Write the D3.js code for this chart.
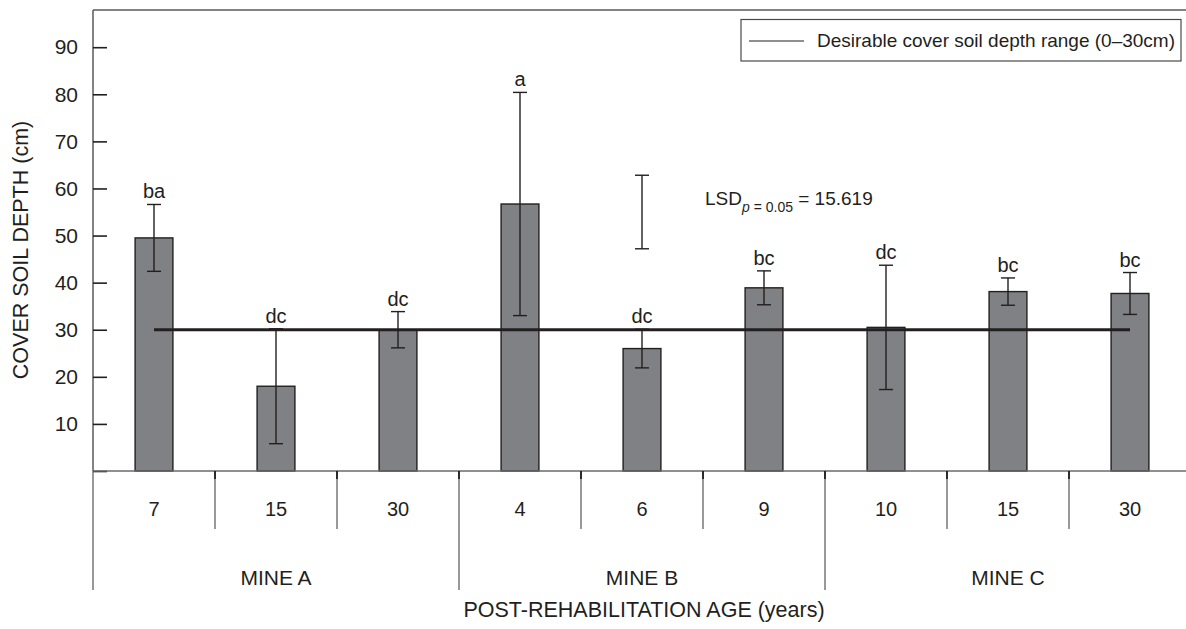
<!DOCTYPE html>
<html>
<head>
<meta charset="utf-8">
<script src="https://cdn.jsdelivr.net/npm/d3@7"></script>
<style>
  body { margin: 0; background: #fff; }
  svg { display: block; }
</style>
</head>
<body>
<svg id="chart" width="1186" height="629"></svg>
<script>
// Cover soil depth by post-rehabilitation age at three mines
const mines = ["MINE A", "MINE B", "MINE C"];
const ages = ["7", "15", "30", "4", "6", "9", "10", "15", "30"];
const mineOfBar = ["MINE A", "MINE A", "MINE A", "MINE B", "MINE B", "MINE B", "MINE C", "MINE C", "MINE C"];
const depth = [49.5, 18.0, 30.0, 56.7, 26.0, 38.9, 30.5, 38.1, 37.7];
const depthError = [7.1, 12.2, 3.85, 23.7, 4.1, 3.6, 13.2, 2.9, 4.45];
const groupLetters = ["ba", "dc", "dc", "a", "dc", "bc", "dc", "bc", "bc"];
const yTicks = [0, 10, 20, 30, 40, 50, 60, 70, 80, 90];
const desirableDepth = 30;
const lsdValue = 15.619;
const lsdCentre = 55;
const lsdBarIndex = 4;

const FONT = "'Liberation Sans', Arial, Helvetica, sans-serif";
const INK = "#231f20";

const svg = d3.select("#chart");
const plotLeft = 93, plotTop = 10, plotBase = 471, plotRight = 1191;

const x = d3.scaleBand().domain(d3.range(ages.length)).range([plotLeft, plotRight]);
const xGroup = d3.scaleBand().domain(mines).range([plotLeft, plotRight]);
const y = d3.scaleLinear().domain([0, 97.9]).range([plotBase, plotTop]);

const bw = x.bandwidth();
const barW = bw * 0.31;
const cx = i => x(i) + bw / 2;

// frame: left axis and top border
svg.append("line").attr("x1", plotLeft).attr("x2", 1186).attr("y1", plotTop).attr("y2", plotTop)
  .attr("stroke", "#5a5a5a").attr("stroke-width", 1.5);
svg.append("line").attr("x1", plotLeft).attr("x2", plotLeft).attr("y1", plotTop).attr("y2", plotBase)
  .attr("stroke", "#5a5a5a").attr("stroke-width", 1.5);

// y axis: ticks point inward, no label at zero
const yAxis = d3.axisLeft(y).tickValues(yTicks).tickSize(-14).tickSizeOuter(0).tickPadding(15)
  .tickFormat(d => d === 0 ? "" : d);
const gy = svg.append("g").attr("transform", `translate(${plotLeft},0)`).call(yAxis);
gy.select(".domain").remove();
gy.selectAll(".tick line").attr("stroke", INK).attr("stroke-width", 1.6);
gy.selectAll(".tick text").attr("fill", INK).attr("font-size", 21).attr("font-family", FONT);

// bars
svg.append("g").selectAll("rect").data(depth).join("rect")
  .attr("x", (d, i) => cx(i) - barW / 2)
  .attr("y", d => y(d))
  .attr("width", barW)
  .attr("height", d => plotBase - y(d))
  .attr("fill", "#808184")
  .attr("stroke", INK)
  .attr("stroke-width", 1.4);

// desirable depth line across the bars
svg.append("line")
  .attr("x1", cx(0)).attr("x2", cx(ages.length - 1))
  .attr("y1", y(desirableDepth)).attr("y2", y(desirableDepth))
  .attr("stroke", INK).attr("stroke-width", 3);

// error bars
const capW = 14;
const eb = svg.append("g").attr("stroke", INK).attr("stroke-width", 1.4);
depth.forEach((d, i) => {
  const hi = y(d + depthError[i]), lo = y(d - depthError[i]);
  eb.append("line").attr("x1", cx(i)).attr("x2", cx(i)).attr("y1", hi).attr("y2", lo);
  eb.append("line").attr("x1", cx(i) - capW / 2).attr("x2", cx(i) + capW / 2).attr("y1", hi).attr("y2", hi);
  eb.append("line").attr("x1", cx(i) - capW / 2).attr("x2", cx(i) + capW / 2).attr("y1", lo).attr("y2", lo);
});

// significance letters above the error bars
svg.append("g").selectAll("text").data(groupLetters).join("text")
  .attr("x", (d, i) => cx(i))
  .attr("y", (d, i) => y(depth[i] + depthError[i]) - 6)
  .attr("text-anchor", "middle")
  .attr("font-family", FONT).attr("font-size", 20).attr("fill", INK)
  .text(d => d);

// LSD bar
const lx = cx(lsdBarIndex), lHi = y(lsdCentre + lsdValue / 2), lLo = y(lsdCentre - lsdValue / 2);
const lg = svg.append("g").attr("stroke", INK).attr("stroke-width", 1.4);
lg.append("line").attr("x1", lx).attr("x2", lx).attr("y1", lHi).attr("y2", lLo);
lg.append("line").attr("x1", lx - capW / 2).attr("x2", lx + capW / 2).attr("y1", lHi).attr("y2", lHi);
lg.append("line").attr("x1", lx - capW / 2).attr("x2", lx + capW / 2).attr("y1", lLo).attr("y2", lLo);

const lsdText = svg.append("text").attr("x", 705).attr("y", 205)
  .attr("font-family", FONT).attr("font-size", 19).attr("fill", INK);
lsdText.append("tspan").text("LSD");
lsdText.append("tspan").attr("dy", 7).attr("font-size", 14).attr("font-style", "italic").text("p");
lsdText.append("tspan").attr("font-size", 14).text(" = 0.05");
lsdText.append("tspan").attr("dy", -7).text(" = " + lsdValue.toFixed(3));

// legend
const legend = svg.append("g");
legend.append("rect").attr("x", 741).attr("y", 19.5).attr("width", 440).attr("height", 41.5)
  .attr("fill", "#fff").attr("stroke", "#4a4a4a").attr("stroke-width", 1.2);
legend.append("line").attr("x1", 749).attr("x2", 804).attr("y1", 41).attr("y2", 41)
  .attr("stroke", INK).attr("stroke-width", 1.2);
legend.append("text").attr("x", 817).attr("y", 47)
  .attr("font-family", FONT).attr("font-size", 19).attr("fill", INK)
  .text("Desirable cover soil depth range (0\u201330cm)");

// bottom axis line
svg.append("line").attr("x1", plotLeft).attr("x2", 1186).attr("y1", plotBase).attr("y2", plotBase)
  .attr("stroke", "#6a6a6a").attr("stroke-width", 1.6);

// category separators (short) and mine separators (long)
const sep = svg.append("g");
d3.range(1, ages.length).forEach(i => {
  const isGroup = mineOfBar[i] !== mineOfBar[i - 1];
  sep.append("line").attr("x1", x(i)).attr("x2", x(i))
    .attr("y1", plotBase).attr("y2", isGroup ? 590 : 529)
    .attr("stroke", "#555").attr("stroke-width", 1.2);
  sep.append("line").attr("x1", x(i)).attr("x2", x(i))
    .attr("y1", plotBase).attr("y2", plotBase + 8)
    .attr("stroke", INK).attr("stroke-width", 1.8);
});
sep.append("line").attr("x1", plotLeft).attr("x2", plotLeft).attr("y1", plotBase).attr("y2", 590)
  .attr("stroke", "#555").attr("stroke-width", 1.2);

// age labels
const xAxis = d3.axisBottom(x).tickSize(0).tickPadding(0).tickFormat(i => ages[i]);
const gx = svg.append("g").attr("transform", `translate(0,${plotBase})`).call(xAxis);
gx.select(".domain").remove();
gx.selectAll(".tick text").attr("y", 45).attr("dy", null)
  .attr("fill", INK).attr("font-size", 20).attr("font-family", FONT);

// mine labels
const gAxis = d3.axisBottom(xGroup).tickSize(0).tickPadding(0);
const gg = svg.append("g").attr("transform", `translate(0,${plotBase})`).call(gAxis);
gg.select(".domain").remove();
gg.selectAll(".tick text").attr("y", 114).attr("dy", null)
  .attr("fill", INK).attr("font-size", 21).attr("font-family", FONT);

// axis titles
svg.append("text").attr("x", 644).attr("y", 617)
  .attr("text-anchor", "middle").attr("font-family", FONT).attr("font-size", 21.5).attr("fill", INK)
  .text("POST-REHABILITATION AGE (years)");
svg.append("text").attr("transform", `translate(27.5,250) rotate(-90)`)
  .attr("text-anchor", "middle").attr("font-family", FONT).attr("font-size", 21.5).attr("fill", INK)
  .text("COVER SOIL DEPTH (cm)");
</script>
</body>
</html>
